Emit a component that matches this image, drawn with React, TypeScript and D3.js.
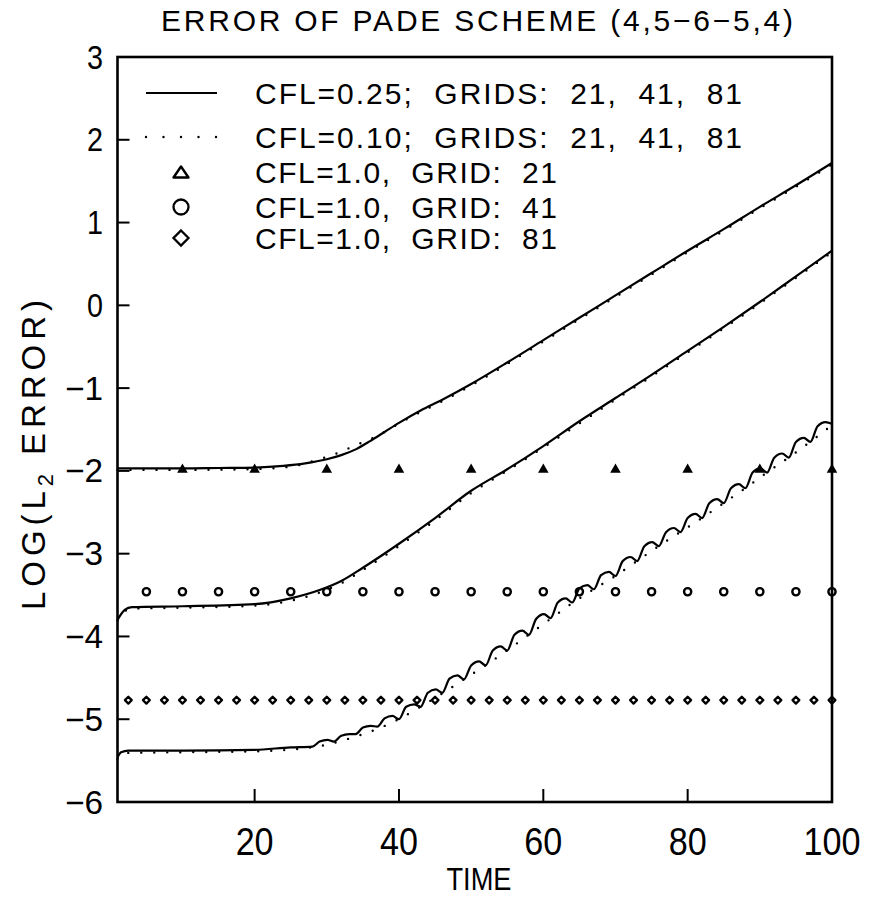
import React from "react";
import * as d3 from "d3";

const TITLE = "ERROR OF PADE SCHEME (4,5\u22126\u22125,4)";
const X_LABEL = "TIME";
const X_TICKS = [20, 40, 60, 80, 100];
const Y_TICKS = [-6, -5, -4, -3, -2, -1, 0, 1, 2, 3];
const LEGEND_LABELS = [
  "CFL=0.25;  GRIDS:  21,  41,  81",
  "CFL=0.10;  GRIDS:  21,  41,  81",
  "CFL=1.0,  GRID:  21",
  "CFL=1.0,  GRID:  41",
  "CFL=1.0,  GRID:  81",
];

// grid 21
const grid21Cfl025: [number, number][] = [
  [1, -1.97], [5, -1.97], [10, -1.97], [15, -1.965], [20, -1.96], [24, -1.94], [27, -1.91],
  [30, -1.86], [32, -1.81], [34, -1.74], [36, -1.64], [38, -1.53], [40, -1.42], [43, -1.27],
  [46, -1.14], [50, -0.95], [55, -0.69], [60, -0.42], [65, -0.15], [70, 0.12], [75, 0.39],
  [80, 0.66], [85, 0.92], [90, 1.19], [95, 1.45], [100, 1.72],
];
const grid21Cfl010: [number, number][] = [
  [1, -1.97], [10, -1.97], [20, -1.96], [25, -1.93], [29, -1.84], [32, -1.75], [34, -1.67],
  [36, -1.6], [38, -1.51], [40, -1.41], [43, -1.27], [46, -1.14], [50, -0.95], [55, -0.69],
  [60, -0.42], [65, -0.15], [70, 0.12], [75, 0.39], [80, 0.66], [85, 0.92], [90, 1.19],
  [95, 1.45], [100, 1.72],
];
// grid 41
const grid41Cfl025: [number, number][] = [
  [1, -3.8], [2, -3.68], [3, -3.645], [10, -3.635], [20, -3.61], [25, -3.54], [29, -3.44],
  [32, -3.33], [35, -3.17], [40, -2.88], [45, -2.57], [50, -2.24], [55, -1.98], [60, -1.7],
  [65, -1.4], [70, -1.12], [75, -0.84], [80, -0.55], [85, -0.26], [90, 0.04], [95, 0.35],
  [100, 0.66],
];
const grid41Cfl010: [number, number][] = [
  [1, -3.79], [2, -3.68], [3, -3.645], [10, -3.635], [20, -3.61], [25, -3.55], [29, -3.45],
  [32, -3.34], [35, -3.18], [40, -2.89], [45, -2.58], [50, -2.25], [55, -1.98], [60, -1.7],
  [65, -1.41], [70, -1.12], [75, -0.84], [80, -0.55], [85, -0.26], [90, 0.04], [95, 0.35],
  [100, 0.66],
];
// grid 81 (scalloped growth)
const grid81Cfl025: [number, number][] = [
  [1, -5.46], [1.5, -5.4], [2.5, -5.38], [10, -5.38], [20, -5.37], [25, -5.34],
  [28, -5.33], [29, -5.27], [30.1, -5.25],
  [31, -5.27], [32, -5.2], [33.1, -5.18],
  [34, -5.18], [35, -5.1], [36.1, -5.08],
  [37, -5.09], [38, -4.99], [39.1, -4.96],
  [40, -5.0], [41, -4.85], [42.1, -4.82],
  [43, -4.85], [44, -4.68], [45.1, -4.64],
  [46, -4.68], [47, -4.51], [48.1, -4.47],
  [49, -4.52], [50, -4.35], [51.1, -4.3],
  [52, -4.35], [53, -4.17], [54.1, -4.12],
  [55, -4.17], [56, -3.98], [57.1, -3.93],
  [58, -3.98], [59, -3.79], [60.1, -3.73],
  [61, -3.78], [62, -3.59], [63.1, -3.54],
  [64, -3.59], [65, -3.42], [66.1, -3.38],
  [67, -3.43], [68, -3.26], [69.1, -3.22],
  [70, -3.27], [71, -3.09], [72.1, -3.04],
  [73, -3.09], [74, -2.91], [75.1, -2.86],
  [76, -2.91], [77, -2.74], [78.1, -2.69],
  [79, -2.74], [80, -2.57], [81.1, -2.52],
  [82, -2.57], [83, -2.39], [84.1, -2.34],
  [85, -2.39], [86, -2.21], [87.1, -2.16],
  [88, -2.21], [89, -2.02], [90.1, -1.97],
  [91, -2.02], [92, -1.84], [93.1, -1.79],
  [94, -1.84], [95, -1.65], [96.1, -1.6],
  [97, -1.65], [98, -1.46], [99.1, -1.41],
  [100, -1.43],
];
const grid81Cfl010: [number, number][] = [
  [1, -5.46], [2, -5.39], [10, -5.38], [20, -5.37], [26, -5.34], [30, -5.29], [34, -5.19],
  [37, -5.1], [40, -4.98], [43, -4.83], [46, -4.67], [49, -4.5], [52, -4.33], [55, -4.15],
  [58, -3.96], [61, -3.77], [64, -3.58], [67, -3.41], [70, -3.25], [73, -3.07], [76, -2.89],
  [79, -2.72], [82, -2.55], [85, -2.37], [88, -2.19], [91, -2.0], [94, -1.82], [97, -1.63],
  [100, -1.43],
];

// CFL = 1.0 markers
const cfl1Grid21Times = [10, 20, 30, 40, 50, 60, 70, 80, 90, 100];
const cfl1Grid21Value = -1.97;
const cfl1Grid41Times = [5, 10, 15, 20, 25, 30, 35, 40, 45, 50, 55, 60, 65, 70, 75, 80, 85, 90, 95, 100];
const cfl1Grid41Value = -3.46;
const cfl1Grid81Times = [
  2.5, 5, 7.5, 10, 12.5, 15, 17.5, 20, 22.5, 25, 27.5, 30, 32.5, 35, 37.5, 40, 42.5, 45, 47.5, 50,
  52.5, 55, 57.5, 60, 62.5, 65, 67.5, 70, 72.5, 75, 77.5, 80, 82.5, 85, 87.5, 90, 92.5, 95, 97.5, 100,
];
const cfl1Grid81Value = -4.77;

const W = 869;
const H = 899;
const L = 117.5, R = 832, T = 57, B = 802;
const FONT = "'Liberation Sans', Arial, sans-serif";

export default function App() {
  const x = d3.scaleLinear().domain([1, 100]).range([L, R]);
  const y = d3.scaleLinear().domain([-6, 3]).range([B, T]);
  const line = d3
    .line<[number, number]>()
    .x((d) => x(d[0]))
    .y((d) => y(d[1]))
    .curve(d3.curveMonotoneX);

  const solid = [grid21Cfl025, grid41Cfl025, grid81Cfl025];
  const dotted = [grid21Cfl010, grid41Cfl010, grid81Cfl010];

  const tri = (cx: number, cy: number, w: number, h: number) =>
    `M${cx - w / 2},${cy + h / 2}L${cx + w / 2},${cy + h / 2}L${cx},${cy - h / 2}Z`;
  const dia = (cx: number, cy: number, r: number) =>
    `M${cx},${cy - r}L${cx + r},${cy}L${cx},${cy + r}L${cx - r},${cy}Z`;

  const legendRowY = [93, 137, 172, 207, 238];
  const legendTextLen = [487, 487, 302, 302, 302];

  return (
    <svg
      width={W}
      height={H}
      style={{ position: "absolute", left: 0, top: 0, background: "#fff" }}
      fontFamily={FONT}
    >
      <rect x={0} y={0} width={W} height={H} fill="#fff" />
      {/* title */}
      <text
        x={477}
        y={31}
        fontSize={30}
        textAnchor="middle"
        textLength={632}
        lengthAdjust="spacing"
        style={{ whiteSpace: "pre" }}
      >
        {TITLE}
      </text>

      {/* data lines */}
      {solid.map((s, i) => (
        <path key={"s" + i} d={line(s) || ""} fill="none" stroke="#000" strokeWidth={2.2} />
      ))}
      {dotted.map((s, i) => (
        <path
          key={"d" + i}
          d={line(s) || ""}
          fill="none"
          stroke="#000"
          strokeWidth={2.4}
          strokeLinecap="round"
          strokeDasharray="0 13"
          transform="translate(0,1.5)"
        />
      ))}

      {/* markers */}
      {cfl1Grid21Times.map((t, i) => (
        <path key={"t" + i} d={tri(x(t), y(cfl1Grid21Value), 8, 7)} fill="#000" stroke="#000" strokeWidth={1.5} />
      ))}
      {cfl1Grid41Times.map((t, i) => (
        <circle key={"c" + i} cx={x(t)} cy={y(cfl1Grid41Value)} r={3.6} fill="none" stroke="#000" strokeWidth={2.4} />
      ))}
      {cfl1Grid81Times.map((t, i) => (
        <path key={"m" + i} d={dia(x(t), y(cfl1Grid81Value), 3.4)} fill="none" stroke="#000" strokeWidth={2.3} strokeLinejoin="round" />
      ))}

      {/* frame */}
      <rect x={L} y={T} width={R - L} height={B - T} fill="none" stroke="#000" strokeWidth={2.6} />

      {/* y ticks */}
      {Y_TICKS.map((v) => (
        <g key={"yt" + v}>
          {v > -6 && v < 3 && <line x1={L} x2={L + 12} y1={y(v)} y2={y(v)} stroke="#000" strokeWidth={2} />}
          <text
            x={103}
            y={y(v)}
            fontSize={33}
            textAnchor="end"
            dominantBaseline="central"
            textLength={v < 0 ? 38 : 16}
            lengthAdjust="spacingAndGlyphs"
          >
            {v < 0 ? "\u2212" + Math.abs(v) : String(v)}
          </text>
        </g>
      ))}
      {/* x ticks */}
      {X_TICKS.map((v) => (
        <g key={"xt" + v}>
          {v < 100 && <line x1={x(v)} x2={x(v)} y1={B} y2={B - 13} stroke="#000" strokeWidth={2} />}
          <text
            x={x(v)}
            y={855}
            fontSize={38}
            textAnchor="middle"
            textLength={String(v).length * 19}
            lengthAdjust="spacingAndGlyphs"
          >
            {String(v)}
          </text>
        </g>
      ))}

      {/* axis titles */}
      <text x={479} y={890} fontSize={32} textAnchor="middle" textLength={65} lengthAdjust="spacingAndGlyphs">
        {X_LABEL}
      </text>
      <text
        transform="translate(45,455) rotate(-90)"
        fontSize={33}
        textAnchor="middle"
        textLength={310}
        lengthAdjust="spacing"
      >
        LOG(L<tspan fontSize={22} dy={8}>2</tspan>
        <tspan dy={-8}>{"\u00A0ERROR)"}</tspan>
      </text>

      {/* legend */}
      <line x1={146} x2={217} y1={legendRowY[0]} y2={legendRowY[0]} stroke="#000" strokeWidth={2.2} />
      <line
        x1={146}
        x2={220}
        y1={legendRowY[1]}
        y2={legendRowY[1]}
        stroke="#000"
        strokeWidth={2.4}
        strokeLinecap="round"
        strokeDasharray="0 17.5"
      />
      <path d={tri(181, legendRowY[2], 15, 11)} fill="none" stroke="#000" strokeWidth={2.4} strokeLinejoin="round" />
      <circle cx={181} cy={legendRowY[3]} r={7.5} fill="none" stroke="#000" strokeWidth={2.3} />
      <path d={dia(181, legendRowY[4], 7.5)} fill="none" stroke="#000" strokeWidth={2.3} />
      {LEGEND_LABELS.map((lab, i) => (
        <text
          key={"lg" + i}
          x={255}
          y={legendRowY[i]}
          fontSize={30}
          dominantBaseline="central"
          textLength={legendTextLen[i]}
          lengthAdjust="spacing"
          style={{ whiteSpace: "pre" }}
        >
          {lab}
        </text>
      ))}
    </svg>
  );
}
